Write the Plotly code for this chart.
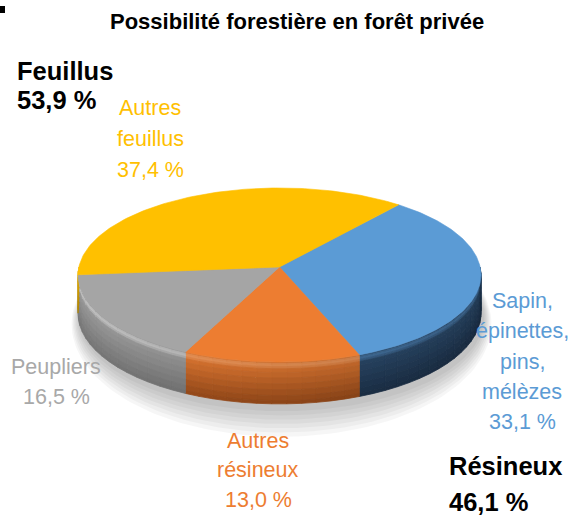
import numpy as np
import plotly.graph_objects as go

# ---------------- data ----------------
title_text = "Possibilité forestière en forêt privée"
slice_names = ["Sapin, épinettes, pins, mélèzes", "Autres résineux", "Peupliers", "Autres feuillus"]
slice_values = [33.1, 13.0, 16.5, 37.4]
slice_groups = ["Résineux", "Résineux", "Feuillus", "Feuillus"]
label_lines = [["Sapin,", "épinettes,", "pins,", "mélèzes"],
               ["Autres", "résineux"],
               ["Peupliers"],
               ["Autres", "feuillus"]]
group_names = ["Feuillus", "Résineux"]

# ---------------- style ----------------
W, H_PX = 578, 517
FONT = "Liberation Sans, Arial, sans-serif"
top_colors = ["#5B9BD5", "#ED7D31", "#A5A5A5", "#FFC000"]
label_colors = ["#5B9BD5", "#ED7D31", "#A8A8A8", "#FFC000"]
# side wall shades: (rim highlight, body, bottom)
side_shades = [((74, 125, 175), (44, 76, 110), (30, 52, 78)),
               ((244, 156, 94), (222, 118, 48), (156, 76, 26)),
               ((200, 200, 200), (152, 152, 152), (118, 118, 118)),
               ((255, 214, 80), (226, 170, 0), (176, 132, 0))]
# label placement: (x, first line centre, line step, anchor)
label_place = [(522, 301, 30.3, "center"),
               (258, 441, 29.3, "center"),
               (56, 367, 30.0, "center"),
               (150, 108, 31.0, "center")]
group_place = {"Feuillus": (15, 71, 28.5), "Résineux": (447, 466, 36.0)}

# pie projection (perspective disc)
CX, CY = 279.5, 267.0     # apex of the slices
S, T = 200.6, 86.3        # horizontal / vertical radius
K = 0.092                 # perspective strength
DEPTH = 38.0              # wall thickness
START = 50.5              # angle of first slice boundary (deg, counter-clockwise from +x)


def proj(phi_deg, t=0.0):
    p = np.radians(np.asarray(phi_deg, dtype=float))
    z = np.sin(p)
    w = 1 + K * z
    x = CX + S * np.cos(p) / w
    y = CY - T * z / w + DEPTH * t / w
    return x, y


def rgb(c):
    return "rgb(%d,%d,%d)" % tuple(int(round(max(0, min(255, v)))) for v in c)


def mix(a, b, f):
    return tuple(a[i] + (b[i] - a[i]) * f for i in range(3))


def wall_colour(shades, t, phi):
    hl, body, bot = shades
    if t < 0.07:
        c = mix(body, hl, t / 0.07)
    elif t < 0.2:
        c = mix(hl, body, (t - 0.07) / 0.13)
    else:
        c = mix(body, bot, (t - 0.2) / 0.8)
    hf = 1 - 0.22 * (np.cos(np.radians(phi)) + 1) / 2
    return tuple(v * hf for v in c)


fig = go.Figure()

# soft shadow under the disc
phis_full = np.linspace(0, 360, 181)
for i in range(7, 0, -1):
    bx, by = proj(phis_full, 1.0)
    ccx, ccy = CX, CY + DEPTH
    bx = ccx + (bx - ccx) * (1 + 0.006 * i) + 2
    by = ccy + (by - ccy) * (1 + 0.035 * i) + 3 + 0.8 * i
    fig.add_trace(go.Scatter(x=bx, y=by, mode="lines", fill="toself",
                             fillcolor="rgba(0,0,0,0.035)", line=dict(width=0),
                             hoverinfo="skip", showlegend=False))

# slice boundaries from the values
total = sum(slice_values)
bounds = [START]
for v in slice_values:
    bounds.append(bounds[-1] - 360.0 * v / total)

# side walls (front half only)
t_edges = [0.0, 0.035, 0.07, 0.11, 0.16, 0.25, 0.38, 0.52, 0.66, 0.8, 0.92, 1.0]
for k in range(len(slice_values)):
    hi, lo = bounds[k], bounds[k + 1]
    for off in (-360, 0, 360):
        a, b = max(lo + off, -180.0), min(hi + off, 0.0)
        if b <= a:
            continue
        nseg = max(1, int(np.ceil((b - a) / 4.0)))
        edges = np.linspace(a, b, nseg + 1)
        for s in range(nseg):
            ph = np.linspace(edges[s], edges[s + 1], 6)
            pm = 0.5 * (edges[s] + edges[s + 1])
            for j in range(len(t_edges) - 1):
                t0, t1 = t_edges[j], t_edges[j + 1]
                x0, y0 = proj(ph, t0)
                x1, y1 = proj(ph[::-1], t1)
                col = rgb(wall_colour(side_shades[k], 0.5 * (t0 + t1), pm))
                fig.add_trace(go.Scatter(
                    x=np.concatenate([x0, x1, x0[:1]]), y=np.concatenate([y0, y1, y0[:1]]),
                    mode="lines", fill="toself", fillcolor=col,
                    line=dict(width=0.8, color=col), hoverinfo="skip", showlegend=False))

# top faces
for k, name in enumerate(slice_names):
    ph = np.linspace(bounds[k], bounds[k + 1], 120)
    ax, ay = proj(ph, 0.0)
    fig.add_trace(go.Scatter(
        x=np.concatenate([[CX], ax, [CX]]), y=np.concatenate([[CY], ay, [CY]]),
        mode="lines", fill="toself", fillcolor=top_colors[k],
        line=dict(width=0.6, color=top_colors[k]), name=name,
        hovertemplate=name + " : %{text}<extra></extra>",
        text=[f"{slice_values[k]:.1f}".replace(".", ",") + " %"] * (len(ax) + 2),
        showlegend=False))


def pct(v):
    return f"{v:.1f}".replace(".", ",") + " %"


annotations = []
annotations.append(dict(x=297, y=21, text="<b>" + title_text + "</b>", showarrow=False,
                        xref="x", yref="y", xanchor="center", yanchor="middle",
                        font=dict(family=FONT, size=22, color="#000000")))

for k in range(len(slice_values)):
    x, y0, step, anchor = label_place[k]
    lines = label_lines[k] + [pct(slice_values[k])]
    for i, line in enumerate(lines):
        annotations.append(dict(x=x, y=y0 + i * step, text=line, showarrow=False,
                                xref="x", yref="y", xanchor=anchor, yanchor="middle",
                                font=dict(family=FONT, size=21.5, color=label_colors[k])))

for g in group_names:
    gv = sum(v for v, grp in zip(slice_values, slice_groups) if grp == g)
    x, y0, step = group_place[g]
    for i, line in enumerate([g, pct(gv)]):
        annotations.append(dict(x=x, y=y0 + i * step, text="<b>" + line + "</b>", showarrow=False,
                                xref="x", yref="y", xanchor="left", yanchor="middle",
                                font=dict(family=FONT, size=25.5, color="#000000")))

fig.update_layout(
    width=W, height=H_PX, margin=dict(l=0, r=0, t=0, b=0),
    paper_bgcolor="white", plot_bgcolor="white",
    xaxis=dict(range=[0, W], visible=False, fixedrange=True),
    yaxis=dict(range=[H_PX, 0], visible=False, fixedrange=True),
    annotations=annotations,
    shapes=[dict(type="rect", xref="x", yref="y", x0=0, x1=5, y0=6, y1=13,
                 fillcolor="#000000", line=dict(width=0))],
    showlegend=False,
)

fig.write_html("out.html", config={"displayModeBar": False})
